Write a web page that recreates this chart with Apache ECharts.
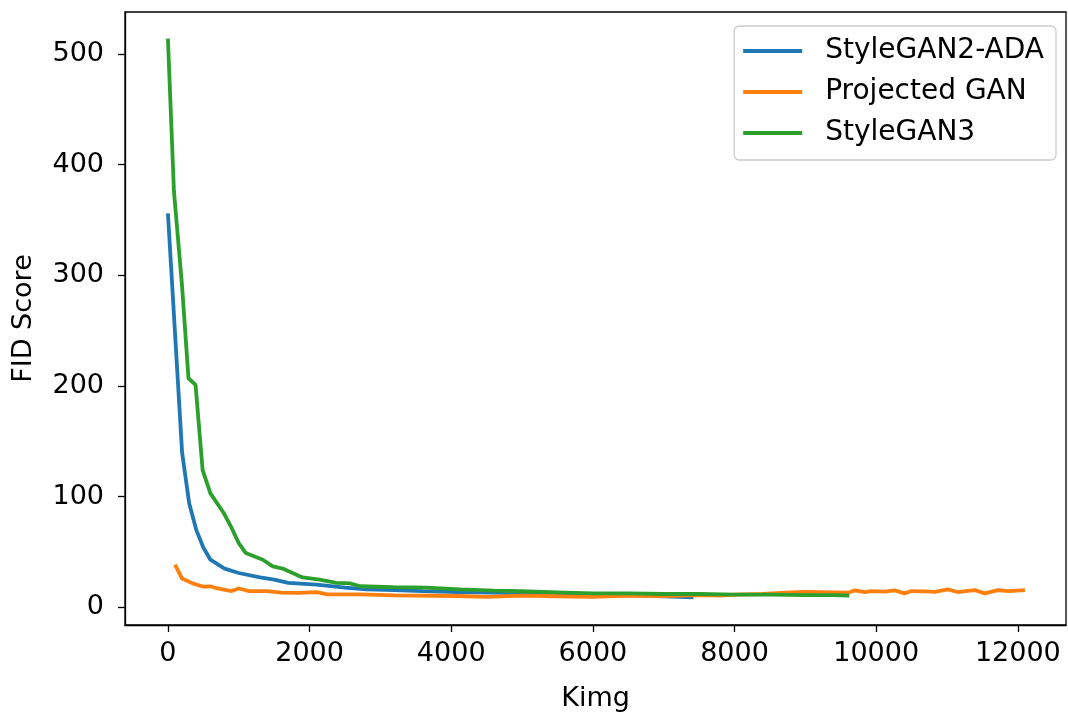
<!DOCTYPE html>
<html>
<head>
    <meta charset="utf-8">
    <script src="https://cdn.jsdelivr.net/npm/echarts@6/dist/echarts.min.js"></script>
    <style>
        html, body { margin: 0; padding: 0; background: #fff; }
        #main { width: 1068px; height: 713px; }
    </style>
</head>
<body>
    <div id="main"></div>
    <script>
        // values
        var seriesNames = ['StyleGAN2-ADA', 'Projected GAN', 'StyleGAN3'];

        var adaKimg = [0, 100, 200, 300, 400, 500, 600, 800, 1000, 1300, 1500, 1700, 2100, 2500, 2800,
            3200, 3600, 4100, 4600, 5100, 5600, 6100, 6600, 7000, 7420];
        var adaFid = [356, 248, 140, 94, 70, 54, 43, 35, 31, 27, 25, 22, 20.5, 17.7, 16.2,
            15.6, 14.7, 13.8, 13.2, 12.5, 12, 11.5, 10.8, 10, 9];

        var projKimg = [100, 200, 350, 500, 600, 700, 900, 1000, 1150, 1400, 1600, 1850, 2100, 2250, 2700,
            3200, 4100, 4500, 5000, 5500, 6000, 6500, 7000, 7500, 7800, 8000, 8400, 8800, 9000, 9400,
            9600, 9700, 9840, 9930, 10120, 10260, 10400, 10500, 10780, 10830, 11010, 11150, 11390,
            11530, 11720, 11860, 12100];
        var projFid = [38.5, 26, 21.6, 18.6, 19, 17, 14.7, 17, 14.7, 14.7, 13.2, 13, 13.8, 11.7, 11.7,
            10.8, 10.2, 9.5, 10.5, 10, 9.5, 10.5, 10.2, 11, 10.5, 11.5, 12, 13.5, 14, 13.5,
            13.2, 15.3, 13.8, 14.7, 14.2, 15.3, 12.6, 14.7, 14.1, 14, 16.2, 13.8, 15.6,
            12.6, 15.6, 14.7, 15.6];

        var sg3Kimg = [0, 85, 200, 290, 390, 490, 600, 790, 890, 1000, 1100, 1340, 1480, 1620, 1900,
            2140, 2380, 2570, 2710, 3180, 3650, 4130, 4600, 5000, 5500, 6000, 6500, 7000, 7500,
            8000, 8500, 9000, 9400, 9620];
        var sg3Fid = [514, 376, 290, 207, 201, 124, 103, 85, 73, 58, 49, 43, 37, 35, 27,
            25, 22, 21.6, 19, 18.3, 17.7, 16.2, 15, 14.5, 13.5, 12.5, 12.5, 12, 12,
            11.5, 11.5, 11, 11, 10.5];

        var xTicks = [0, 2000, 4000, 6000, 8000, 10000, 12000];
        var yTicks = [0, 100, 200, 300, 400, 500];

        var colors = ['#1f77b4', '#ff7f0e', '#2ca02c'];

        function pairs(xs, ys) {
            return xs.map(function (x, i) { return [x, ys[i]]; });
        }

        var font = 'DejaVu Sans';
        var fs = 27;
        var chart = echarts.init(document.getElementById('main'));

        var lineSeries = [
            pairs(adaKimg, adaFid),
            pairs(projKimg, projFid),
            pairs(sg3Kimg, sg3Fid)
        ].map(function (d, i) {
            return {
                name: seriesNames[i],
                type: 'line',
                data: d,
                showSymbol: false,
                lineStyle: { width: 3.8, color: colors[i] },
                itemStyle: { color: colors[i] }
            };
        });

        var option = {
            animation: false,
            color: colors,
            textStyle: { fontFamily: font },
            grid: {
                left: 125, right: 2, top: 12, bottom: 88,
                outerBoundsMode: 'none',
                show: true, borderColor: '#000', borderWidth: 1.3
            },
            legend: {
                orient: 'vertical',
                right: 12,
                top: 26,
                padding: [10, 12, 12, 9],
                itemWidth: 59,
                itemHeight: 4,
                itemGap: 11,
                icon: 'rect',
                borderColor: '#cccccc',
                borderWidth: 1.3,
                borderRadius: 5,
                textStyle: {
                    fontFamily: font, fontSize: 28, color: '#000',
                    lineHeight: 30, padding: [0, 0, 0, 18]
                },
                data: seriesNames
            },
            xAxis: {
                type: 'value',
                min: -606,
                max: 12680,
                name: 'Kimg',
                nameLocation: 'middle',
                nameGap: 60,
                nameTextStyle: { fontFamily: font, fontSize: fs, color: '#000' },
                splitLine: { show: false },
                axisLine: { show: true, onZero: false, lineStyle: { color: '#000', width: 1.3 } },
                axisTick: { show: true, length: 7, lineStyle: { color: '#000', width: 1.3 }, customValues: xTicks },
                axisLabel: {
                    fontFamily: font, fontSize: fs, color: '#000', margin: 15, customValues: xTicks,
                    formatter: function (v) { return String(v); }
                }
            },
            yAxis: {
                type: 'value',
                min: -16,
                max: 538,
                name: 'FID Score',
                nameLocation: 'middle',
                nameGap: 88,
                nameTextStyle: { fontFamily: font, fontSize: fs, color: '#000' },
                splitLine: { show: false },
                axisLine: { show: true, onZero: false, lineStyle: { color: '#000', width: 1.3 } },
                axisTick: { show: true, length: 7, lineStyle: { color: '#000', width: 1.3 }, customValues: yTicks },
                axisLabel: {
                    fontFamily: font, fontSize: fs, color: '#000', margin: 21, customValues: yTicks,
                    formatter: function (v) { return String(v); }
                }
            },
            series: lineSeries
        };

        chart.setOption(option);
    </script>
</body>
</html>
